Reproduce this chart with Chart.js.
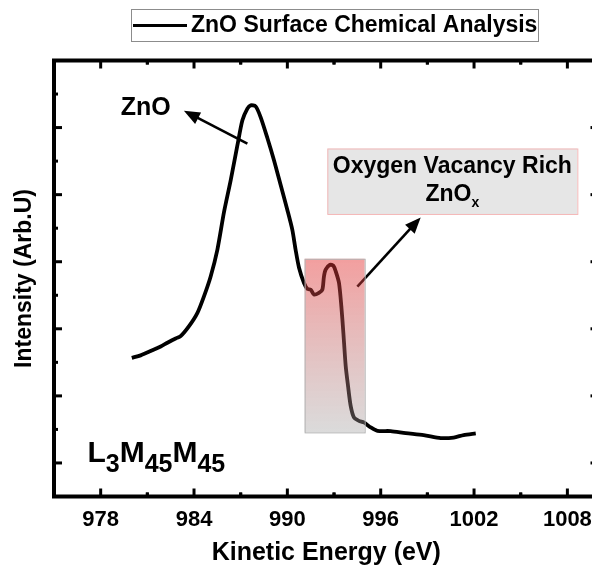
<!DOCTYPE html>
<html>
<head>
<meta charset="utf-8">
<title>ZnO Auger L3M45M45</title>
<script src="https://cdn.jsdelivr.net/npm/chart.js@4.4.1/dist/chart.umd.min.js"></script>
<style>
  html, body { margin: 0; padding: 0; background: #fff; overflow: hidden; }
  #wrap { width: 610px; height: 569px; }
</style>
</head>
<body>
<div id="wrap"><canvas id="augerChart" width="610" height="569"></canvas></div>
<script>
// Zn L3M45M45 Auger line, kinetic energy (eV) vs intensity (arb. units)
const seriesLabel = 'ZnO Surface Chemical Analysis';
const energy = [
  980.0, 980.57, 981.21, 981.86, 982.29, 982.82, 983.14, 983.68, 984.22, 984.64,
  985.07, 985.50, 985.93, 986.36, 986.79, 987.11, 987.43, 987.64, 987.96, 988.28,
  988.72, 989.14, 989.57, 990.0, 990.32, 990.53, 990.75, 991.07, 991.29, 991.50,
  991.71, 992.03, 992.25, 992.35, 992.46, 992.74, 992.96, 993.11, 993.32, 993.47,
  993.60, 993.75, 993.90, 994.07, 994.28, 994.60, 994.92, 995.36, 995.79, 996.64,
  997.61, 998.76, 999.86, 1000.69, 1001.33, 1002.11
];
const intensity = [
  1.567, 1.604, 1.668, 1.737, 1.792, 1.856, 1.890, 2.039, 2.238, 2.484,
  2.781, 3.178, 3.742, 4.217, 4.737, 5.108, 5.282, 5.331, 5.316, 5.157,
  4.841, 4.514, 4.143, 3.772, 3.475, 3.178, 2.911, 2.683, 2.594, 2.584,
  2.510, 2.535, 2.584, 2.777, 2.881, 2.955, 2.940, 2.856, 2.683, 2.336,
  1.941, 1.445, 1.148, 0.851, 0.679, 0.628, 0.604, 0.530, 0.480, 0.475,
  0.445, 0.416, 0.371, 0.379, 0.416, 0.441
];
const xTicks = [978, 984, 990, 996, 1002, 1008];
const xTickLabels = ['978', '984', '990', '996', '1002', '1008'];
const yTicks = [0, 1, 2, 3, 4, 5];

const FONT = '"Liberation Sans", Arial, Helvetica, sans-serif';

// annotation anchors, in data units
const znoLabel = { x: 980.89, y: 5.29 };
const znoArrow = { from: [987.43, 4.76], to: [983.35, 5.25] };
const vacancyBand = { x0: 991.11, x1: 994.97, y0: 0.456, y1: 3.044 };
const vacancyBox = { x0: 992.57, x1: 1008.64, y0: 3.712, y1: 4.688 };
const vacancyArrow = { from: [994.50, 2.63], to: [998.57, 3.66] };
const lineTag = { x: 977.15, y: 0.01 };

function toPx(chart, x, y) {
  return [chart.scales.x.getPixelForValue(x), chart.scales.y.getPixelForValue(y)];
}

function drawArrow(ctx, x1, y1, x2, y2) {
  const a = Math.atan2(y2 - y1, x2 - x1);
  const len = 16, half = 6.5;
  ctx.beginPath();
  ctx.moveTo(x1, y1);
  ctx.lineTo(x2 - Math.cos(a) * len * 0.7, y2 - Math.sin(a) * len * 0.7);
  ctx.stroke();
  ctx.beginPath();
  ctx.moveTo(x2, y2);
  ctx.lineTo(x2 - len * Math.cos(a) + half * Math.sin(a), y2 - len * Math.sin(a) - half * Math.cos(a));
  ctx.lineTo(x2 - len * Math.cos(a) - half * Math.sin(a), y2 - len * Math.sin(a) + half * Math.cos(a));
  ctx.closePath();
  ctx.fill();
}

// text with subscripts: runs = [[text, isSub], ...], baseline at y
function drawRuns(ctx, runs, x, y, size, subSize, drop, align) {
  const fontMain = 'bold ' + size + 'px ' + FONT;
  const fontSub = 'bold ' + subSize + 'px ' + FONT;
  let total = 0;
  runs.forEach(([t, sub]) => { ctx.font = sub ? fontSub : fontMain; total += ctx.measureText(t).width; });
  let cx = align === 'center' ? x - total / 2 : x;
  ctx.textAlign = 'left';
  ctx.textBaseline = 'alphabetic';
  runs.forEach(([t, sub]) => {
    ctx.font = sub ? fontSub : fontMain;
    ctx.fillText(t, cx, sub ? y + drop : y);
    cx += ctx.measureText(t).width;
  });
}

// shaded band over the O-vacancy shoulder, arrows underneath
const bandPlugin = {
  id: 'band',
  afterDatasetsDraw(chart) {
    const ctx = chart.ctx;
    ctx.save();
    ctx.strokeStyle = '#000';
    ctx.fillStyle = '#000';
    ctx.lineWidth = 2.6;
    let p = toPx(chart, ...znoArrow.from), q = toPx(chart, ...znoArrow.to);
    drawArrow(ctx, p[0], p[1], q[0], q[1]);
    p = toPx(chart, ...vacancyArrow.from); q = toPx(chart, ...vacancyArrow.to);
    drawArrow(ctx, p[0], p[1], q[0], q[1]);

    const [bx0, by1] = toPx(chart, vacancyBand.x0, vacancyBand.y1);
    const [bx1, by0] = toPx(chart, vacancyBand.x1, vacancyBand.y0);
    const g = ctx.createLinearGradient(0, by1, 0, by0);
    g.addColorStop(0, 'rgba(228, 50, 50, 0.47)');
    g.addColorStop(1, 'rgba(160, 160, 160, 0.38)');
    ctx.fillStyle = g;
    ctx.fillRect(bx0, by1, bx1 - bx0, by0 - by1);
    ctx.strokeStyle = '#b4b4b4';
    ctx.lineWidth = 1;
    ctx.strokeRect(bx0 + 0.5, by1 + 0.5, bx1 - bx0, by0 - by1);
    ctx.restore();
  }
};

// frame, inward ticks on all four sides, labels and legend
const framePlugin = {
  id: 'frame',
  afterDraw(chart) {
    const ctx = chart.ctx;
    const { left, right, top, bottom } = chart.chartArea;
    const xs = chart.scales.x, ys = chart.scales.y;
    ctx.save();

    // text annotations
    ctx.fillStyle = '#000';
    let [tx, ty] = toPx(chart, znoLabel.x, znoLabel.y);
    ctx.font = 'bold 25px ' + FONT;
    ctx.textAlign = 'center';
    ctx.textBaseline = 'middle';
    ctx.fillText('ZnO', tx, ty);

    const [vx0, vy1] = toPx(chart, vacancyBox.x0, vacancyBox.y1);
    const [vx1, vy0] = toPx(chart, vacancyBox.x1, vacancyBox.y0);
    ctx.fillStyle = '#e6e6e6';
    ctx.fillRect(vx0, vy1, vx1 - vx0, vy0 - vy1);
    ctx.strokeStyle = '#f4b8b8';
    ctx.lineWidth = 1;
    ctx.strokeRect(vx0 + 0.5, vy1 + 0.5, vx1 - vx0, vy0 - vy1);
    ctx.fillStyle = '#000';
    const mid = (vx0 + vx1) / 2;
    drawRuns(ctx, [['Oxygen Vacancy Rich', false]], mid, vy1 + 24.5, 23, 23, 0, 'center');
    drawRuns(ctx, [['ZnO', false], ['x', true]], mid, vy1 + 52, 23, 14, 6, 'center');

    [tx, ty] = toPx(chart, lineTag.x, lineTag.y);
    drawRuns(ctx, [['L', false], ['3', true], ['M', false], ['45', true], ['M', false], ['45', true]],
      tx, ty, 30, 25, 10, 'left');

    // frame
    ctx.strokeStyle = '#000';
    ctx.lineWidth = 4;
    ctx.strokeRect(left, top, right - left, bottom - top);

    // ticks
    ctx.lineWidth = 3;
    ctx.lineCap = 'butt';
    const tick = (x1, y1, x2, y2) => { ctx.beginPath(); ctx.moveTo(x1, y1); ctx.lineTo(x2, y2); ctx.stroke(); };
    const major = 8, minor = 4;
    xTicks.forEach(v => {
      const x = xs.getPixelForValue(v);
      tick(x, bottom, x, bottom - major);
      tick(x, top, x, top + major);
      [v - 3, v + 3].forEach(m => {
        if (m > xs.min && m < xs.max) {
          const xm = xs.getPixelForValue(m);
          tick(xm, bottom, xm, bottom - minor);
          tick(xm, top, xm, top + minor);
        }
      });
    });
    yTicks.forEach(v => {
      const y = ys.getPixelForValue(v);
      tick(left, y, left + major, y);
      tick(right, y, right - major, y);
      const ym = ys.getPixelForValue(v + 0.5);
      tick(left, ym, left + minor, ym);
      tick(right, ym, right - minor, ym);
    });

    // legend
    const label = chart.data.datasets[0].label;
    ctx.fillStyle = '#fff';
    ctx.fillRect(131.5, 9.5, 407, 32);
    ctx.strokeStyle = '#8c8c8c';
    ctx.lineWidth = 1;
    ctx.strokeRect(131.5, 9.5, 407, 32);
    ctx.strokeStyle = '#000';
    ctx.lineWidth = 3;
    tick(133, 25.5, 187, 25.5);
    ctx.fillStyle = '#000';
    ctx.font = 'bold 23px ' + FONT;
    ctx.textAlign = 'left';
    ctx.textBaseline = 'middle';
    ctx.fillText(label, 191, 26);
    ctx.restore();
  }
};

new Chart(document.getElementById('augerChart'), {
  type: 'line',
  data: {
    datasets: [{
      label: seriesLabel,
      data: energy.map((e, i) => ({ x: e, y: intensity[i] })),
      borderColor: '#000',
      borderWidth: 3.8,
      pointRadius: 0,
      tension: 0.25,
      fill: false
    }]
  },
  options: {
    responsive: false,
    animation: false,
    layout: { padding: { top: 60.5, right: 11.5, left: 0, bottom: 0 } },
    plugins: { legend: { display: false }, tooltip: { enabled: false } },
    scales: {
      x: {
        type: 'linear',
        min: 975,
        max: 1010,
        grid: { display: false, drawTicks: false },
        border: { display: false },
        afterBuildTicks: s => { s.ticks = xTicks.map(v => ({ value: v })); },
        afterFit: s => { s.height = 72.5; },
        ticks: {
          padding: 10,
          maxRotation: 0,
          color: '#000',
          font: { family: FONT, size: 22, weight: 'bold' },
          callback: (v) => xTickLabels[xTicks.indexOf(v)]
        },
        title: {
          display: true,
          text: 'Kinetic Energy (eV)',
          color: '#000',
          font: { family: FONT, size: 25, weight: 'bold' },
          padding: { top: 0, bottom: 1 }
        }
      },
      y: {
        min: -0.5,
        max: 6,
        grid: { display: false, drawTicks: false },
        border: { display: false },
        ticks: { display: false },
        afterFit: s => { s.width = 54; },
        title: {
          display: true,
          text: 'Intensity (Arb.U)',
          color: '#000',
          font: { family: FONT, size: 23, weight: 'bold' },
          padding: { top: 11, bottom: 0 }
        }
      }
    }
  },
  plugins: [bandPlugin, framePlugin]
});
</script>
</body>
</html>
